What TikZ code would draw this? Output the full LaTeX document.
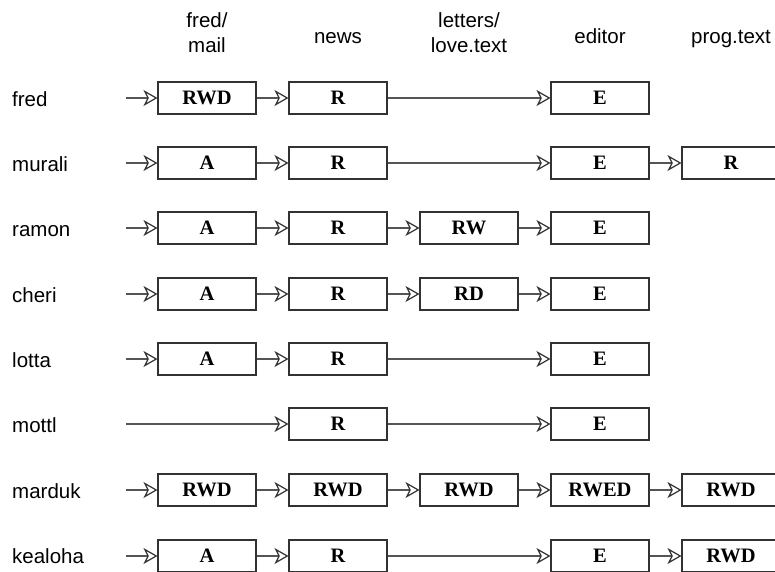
\documentclass[tikz,border=0pt]{standalone}
\usepackage{fontspec}
\setmainfont{Liberation Serif}
\newfontfamily\lblsans{Liberation Sans}
\usetikzlibrary{arrows.meta}
\definecolor{pline}{RGB}{85,85,85}
\definecolor{pbox}{RGB}{50,50,50}
\newcommand{\lblfont}{\lblsans\fontsize{20.5}{25}\selectfont}
\newcommand{\rightsfont}{\bfseries\fontsize{20.5}{24}\selectfont}
\tikzset{
  acl/.style={rectangle,draw=pbox,line width=1.1pt,fill=white,
              minimum width=98pt,minimum height=32pt,inner sep=0pt,
              font=\rightsfont},
  user/.style={anchor=base west,font=\lblfont,inner sep=0pt},
  hdr/.style={anchor=base,font=\lblfont,align=center,inner sep=0pt},
  link/.style={pline,line width=1.2pt,
               -{Stealth[open,length=14pt,width=16pt,inset=4pt,color=pbox]}},
}
\begin{document}
\begin{tikzpicture}[x=1pt,y=-1pt]
  \useasboundingbox (0,0) rectangle (775,571);
  % column headers
  \node[hdr] (hmail) at (207,52) {fred/\\mail};
  \node[hdr] (hnews) at (338,43) {news};
  \node[hdr] (hlove) at (469,52) {letters/\\love.text};
  \node[hdr] (hedit) at (600,43) {editor};
  \node[hdr] (hprog) at (731,43) {prog.text};
  % fred
  \node[user] (fred) at (12,106) {fred};
  \coordinate (fred0) at (126,98);
  \node[acl] (fred1) at (207,98) {RWD};
  \node[acl] (fred2) at (338,98) {R};
  \node[acl] (fred4) at (600,98) {E};
  \draw[link] (fred0) -- (fred1);
  \draw[link] (fred1) -- (fred2);
  \draw[link] (fred2) -- (fred4);
  % murali
  \node[user] (murali) at (12,171) {murali};
  \coordinate (murali0) at (126,163);
  \node[acl] (murali1) at (207,163) {A};
  \node[acl] (murali2) at (338,163) {R};
  \node[acl] (murali4) at (600,163) {E};
  \node[acl] (murali5) at (731,163) {R};
  \draw[link] (murali0) -- (murali1);
  \draw[link] (murali1) -- (murali2);
  \draw[link] (murali2) -- (murali4);
  \draw[link] (murali4) -- (murali5);
  % ramon
  \node[user] (ramon) at (12,236) {ramon};
  \coordinate (ramon0) at (126,228);
  \node[acl] (ramon1) at (207,228) {A};
  \node[acl] (ramon2) at (338,228) {R};
  \node[acl] (ramon3) at (469,228) {RW};
  \node[acl] (ramon4) at (600,228) {E};
  \draw[link] (ramon0) -- (ramon1);
  \draw[link] (ramon1) -- (ramon2);
  \draw[link] (ramon2) -- (ramon3);
  \draw[link] (ramon3) -- (ramon4);
  % cheri
  \node[user] (cheri) at (12,302) {cheri};
  \coordinate (cheri0) at (126,294);
  \node[acl] (cheri1) at (207,294) {A};
  \node[acl] (cheri2) at (338,294) {R};
  \node[acl] (cheri3) at (469,294) {RD};
  \node[acl] (cheri4) at (600,294) {E};
  \draw[link] (cheri0) -- (cheri1);
  \draw[link] (cheri1) -- (cheri2);
  \draw[link] (cheri2) -- (cheri3);
  \draw[link] (cheri3) -- (cheri4);
  % lotta
  \node[user] (lotta) at (12,367) {lotta};
  \coordinate (lotta0) at (126,359);
  \node[acl] (lotta1) at (207,359) {A};
  \node[acl] (lotta2) at (338,359) {R};
  \node[acl] (lotta4) at (600,359) {E};
  \draw[link] (lotta0) -- (lotta1);
  \draw[link] (lotta1) -- (lotta2);
  \draw[link] (lotta2) -- (lotta4);
  % mottl
  \node[user] (mottl) at (12,432) {mottl};
  \coordinate (mottl0) at (126,424);
  \node[acl] (mottl2) at (338,424) {R};
  \node[acl] (mottl4) at (600,424) {E};
  \draw[link] (mottl0) -- (mottl2);
  \draw[link] (mottl2) -- (mottl4);
  % marduk
  \node[user] (marduk) at (12,498) {marduk};
  \coordinate (marduk0) at (126,490);
  \node[acl] (marduk1) at (207,490) {RWD};
  \node[acl] (marduk2) at (338,490) {RWD};
  \node[acl] (marduk3) at (469,490) {RWD};
  \node[acl] (marduk4) at (600,490) {RWED};
  \node[acl] (marduk5) at (731,490) {RWD};
  \draw[link] (marduk0) -- (marduk1);
  \draw[link] (marduk1) -- (marduk2);
  \draw[link] (marduk2) -- (marduk3);
  \draw[link] (marduk3) -- (marduk4);
  \draw[link] (marduk4) -- (marduk5);
  % kealoha
  \node[user] (kealoha) at (12,563) {kealoha};
  \coordinate (kealoha0) at (126,556);
  \node[acl] (kealoha1) at (207,556) {A};
  \node[acl] (kealoha2) at (338,556) {R};
  \node[acl] (kealoha4) at (600,556) {E};
  \node[acl] (kealoha5) at (731,556) {RWD};
  \draw[link] (kealoha0) -- (kealoha1);
  \draw[link] (kealoha1) -- (kealoha2);
  \draw[link] (kealoha2) -- (kealoha4);
  \draw[link] (kealoha4) -- (kealoha5);
\end{tikzpicture}
\end{document}
